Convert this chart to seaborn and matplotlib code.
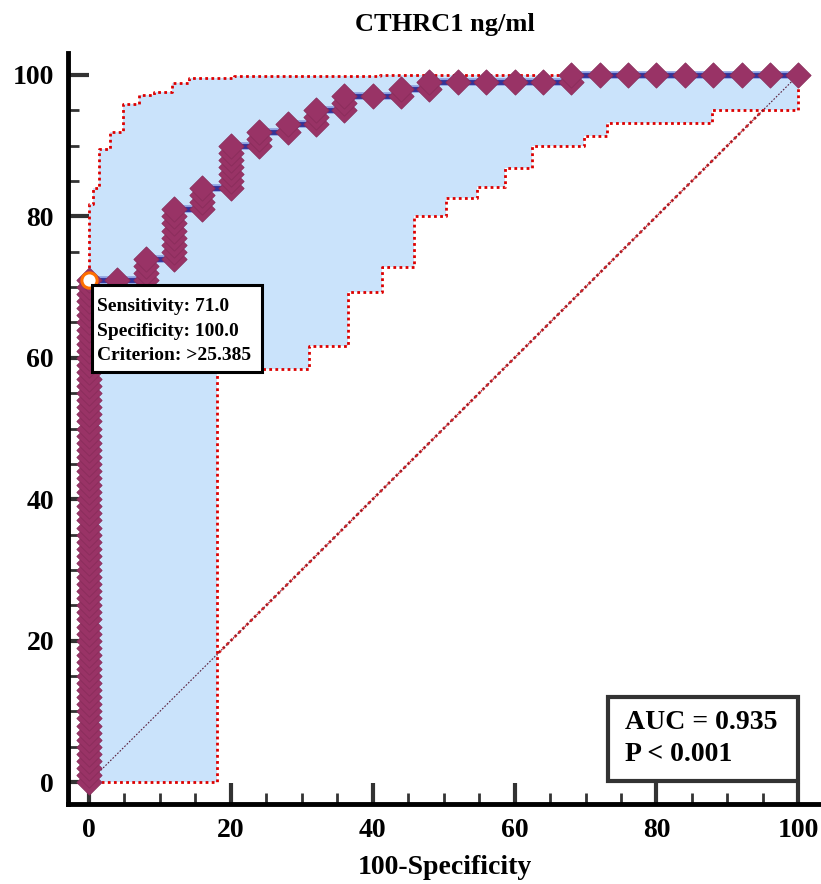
import matplotlib
matplotlib.use("Agg")
import matplotlib.pyplot as plt
import numpy as np
import pandas as pd
import seaborn as sns
from matplotlib.patches import Rectangle
from matplotlib.ticker import MultipleLocator

# ROC staircase: 25 negatives (4 % per column), 100 positives (1 % per step)
fpr_cols = [0, 4, 8, 12, 16, 20, 24, 28, 32, 36, 40, 44, 48, 52, 56, 60, 64, 68,
            72, 76, 80, 84, 88, 92, 96, 100]
tpr_cols = [71, 71, 74, 81, 84, 90, 92, 93, 95, 97, 97, 98, 99, 99, 99, 99, 99, 100,
            100, 100, 100, 100, 100, 100, 100, 100]

# 95% confidence band corners (step after each x)
ci_upper_x = [0, 0, 0.5, 1.4, 3.0, 4.75, 7.0, 9.2, 11.7, 14.1, 20.4, 41.0, 100]
ci_upper_y = [71, 81.8, 84.0, 89.5, 92.0, 95.9, 97.2, 97.6, 98.9, 99.5, 99.8, 100, 100]
ci_lower_x = [0, 18.05, 31.0, 36.5, 41.3, 45.8, 50.4, 54.7, 58.6, 62.5, 69.8, 73.1, 87.9, 100]
ci_lower_y = [0, 58.4, 61.7, 69.3, 72.9, 80.1, 82.6, 84.1, 86.8, 89.9, 91.4, 93.2, 95.0, 100]

cut_sens = 71.0
cut_spec = 100.0
cut_crit = ">25.385"
auc_value = 0.935
p_label = "P < 0.001"

title = "CTHRC1 ng/ml"
xlabel = "100-Specificity"

# expand the step counts into one point per threshold
rows = []
prev = 0
for x, top in zip(fpr_cols, tpr_cols):
    for t in range(prev, top + 1):
        rows.append((x, t))
    prev = top
pts = pd.DataFrame(rows, columns=["fpr", "tpr"])


def staircase(xs, ys):
    sx, sy = [xs[0]], [ys[0]]
    for i in range(1, len(xs)):
        sx += [xs[i], xs[i]]
        sy += [ys[i - 1], ys[i]]
    return sx, sy


sns.set_style("ticks")
plt.rcParams["font.family"] = ["Liberation Serif", "DejaVu Serif"]
plt.rcParams["font.weight"] = "bold"
plt.rcParams["text.color"] = "black"
plt.rcParams["axes.labelcolor"] = "black"

fig = plt.figure(figsize=(8.21, 8.84), dpi=100)
ax = fig.add_axes([0.0828, 0.0905, 0.9172, 0.8495])

# confidence band
ux, uy = staircase(ci_upper_x, ci_upper_y)
lx, ly = staircase(ci_lower_x, ci_lower_y)
poly_x = [0] + ux + lx[::-1]
poly_y = [0] + uy + ly[::-1]
ax.fill(poly_x, poly_y, color="#cae3fb", lw=0, zorder=1.5)
ax.plot(ux, uy, color="#dd0000", lw=2, dashes=(1, 1.2), zorder=2)
ax.plot(lx, ly, color="#dd0000", lw=2, dashes=(1, 1.2), zorder=2)

# reference diagonal
ax.plot([0, 100], [0, 100], color="#dd2222", lw=2, dashes=(1, 1), zorder=1)
ax.plot([0, 100], [0, 100], color="#5a1f3c", lw=0.8, dashes=(1.5, 1.5), zorder=2.5)

# ROC curve
sns.lineplot(data=pts, x="fpr", y="tpr", estimator=None, sort=False,
             color="#8f9fe0", lw=5.5, ax=ax, zorder=3)
sns.lineplot(data=pts, x="fpr", y="tpr", estimator=None, sort=False,
             color="#333399", lw=3.5, ax=ax, zorder=3.1)
sns.scatterplot(data=pts, x="fpr", y="tpr", marker="D", s=165, color="#993366",
                edgecolor="#8a2d5b", linewidth=0.6, ax=ax, zorder=4, clip_on=False)

# optimal cut-off
ax.plot([100 - cut_spec], [cut_sens], "o", ms=11, mfc="white", mec="#ff7000",
        mew=2.2, zorder=5)
ax.add_patch(Rectangle((0.42, 58.0), 24.0, 12.3, fc="white", ec="black", lw=2.2,
                       zorder=6))
ax.text(1.13, 68.4,
        f"Sensitivity: {cut_sens:.1f}\nSpecificity: {cut_spec:.1f}\nCriterion: {cut_crit}",
        fontsize=14, fontweight="bold", ha="left", va="top", linespacing=1.55,
        zorder=7)

ax.add_patch(Rectangle((73.2, 0.1), 26.7, 11.9, fc="white", ec="#333333", lw=3,
                       zorder=6))
ax.text(75.6, 10.2, f"AUC = {auc_value:.3f}\n{p_label}", fontsize=20,
        fontweight="bold", ha="left", va="top", linespacing=1.35, zorder=7)

ax.set_xlim(-2.96, 103.2)
ax.set_ylim(-3.1, 103.1)
ax.xaxis.set_major_locator(MultipleLocator(20))
ax.yaxis.set_major_locator(MultipleLocator(20))
ax.xaxis.set_minor_locator(MultipleLocator(5))
ax.yaxis.set_minor_locator(MultipleLocator(5))
ax.tick_params(which="major", direction="in", length=15, width=3, color="#333333",
               labelsize=20, labelcolor="black", pad=10)
ax.tick_params(which="minor", direction="in", length=8, width=2, color="#333333")
for lab in ax.get_xticklabels() + ax.get_yticklabels():
    lab.set_fontweight("bold")

for side in ["top", "right"]:
    ax.spines[side].set_visible(False)
for side in ["left", "bottom"]:
    ax.spines[side].set_linewidth(3.5)
    ax.spines[side].set_color("black")

ax.set_xlabel(xlabel, fontsize=20, fontweight="bold", labelpad=9)
ax.set_ylabel("")
ax.set_title(title, fontsize=19, fontweight="bold", pad=16)

fig.savefig("out.png", dpi=100)
